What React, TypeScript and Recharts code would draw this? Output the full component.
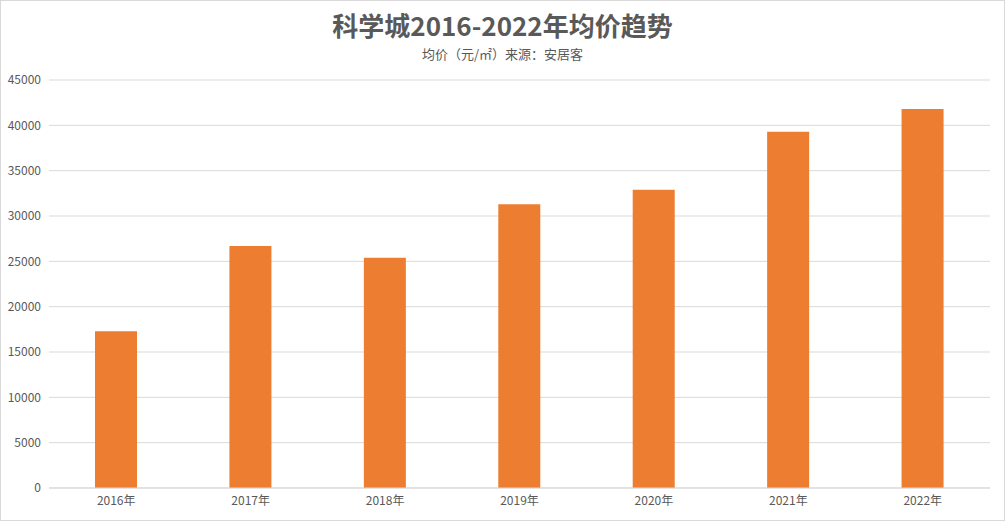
import React from "react";
import { Bar, BarChart, CartesianGrid, XAxis, YAxis } from "recharts";

const years = ["2016年", "2017年", "2018年", "2019年", "2020年", "2021年", "2022年"];
const prices = [17300, 26700, 25400, 31300, 32900, 39300, 41800];
const yTicks = [0, 5000, 10000, 15000, 20000, 25000, 30000, 35000, 40000, 45000];

const chartData = years.map((year, i) => ({ year, price: prices[i] }));

const font = '"Microsoft YaHei", "Noto Sans CJK SC", sans-serif';

const App = () => {
  return (
    <div
      style={{
        position: "absolute",
        top: 0,
        left: 0,
        width: 1005,
        height: 521,
        boxSizing: "border-box",
        border: "1px solid #d9d9d9",
        background: "#fff",
        fontFamily: font,
      }}
    >
      <div
        style={{
          position: "absolute",
          top: 10,
          left: 0,
          width: 1003,
          textAlign: "center",
          fontSize: 26,
          fontWeight: "bold",
          color: "#595959",
          lineHeight: "28px",
        }}
      >
        科学城2016-2022年均价趋势
      </div>
      <div
        style={{
          position: "absolute",
          top: 44,
          left: 0,
          width: 1003,
          textAlign: "center",
          fontSize: 13,
          color: "#595959",
          lineHeight: "17px",
        }}
      >
        均价（元/㎡）来源：安居客
      </div>
      <BarChart
        width={1003}
        height={519}
        data={chartData}
        margin={{ top: 79, right: 14, bottom: 2, left: 0 }}
        barSize={42}
      >
        <CartesianGrid vertical={false} stroke="#d9d9d9" />
        <XAxis
          dataKey="year"
          stroke="#d9d9d9"
          tickLine={false}
          height={30}
          tick={{ fill: "#595959", fontSize: 12, fontFamily: font }}
        />
        <YAxis
          domain={[0, 45000]}
          ticks={yTicks}
          width={48}
          axisLine={false}
          tickLine={false}
          tick={{ fill: "#595959", fontSize: 12, fontFamily: font }}
        />
        <Bar dataKey="price" fill="#ED7D31" isAnimationActive={false} />
      </BarChart>
    </div>
  );
};

export default App;
